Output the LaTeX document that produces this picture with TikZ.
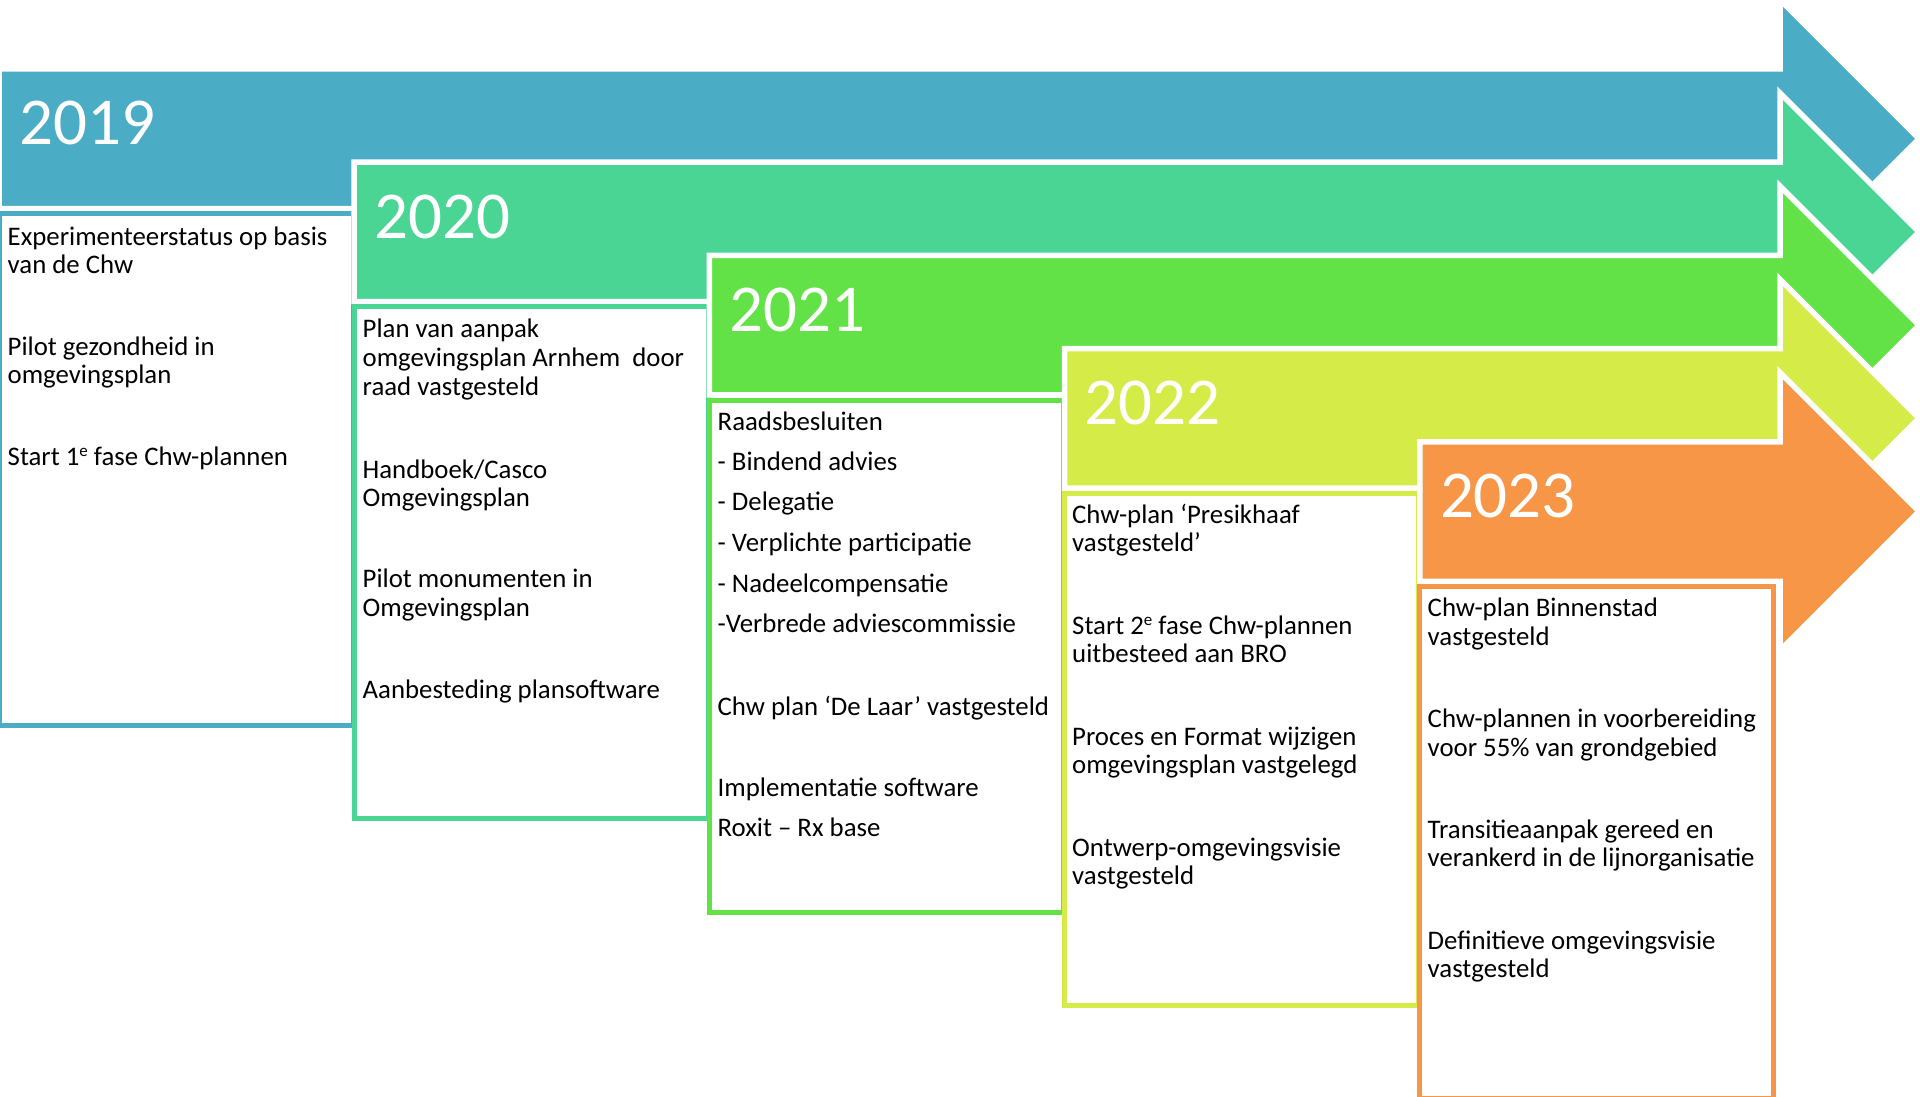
\documentclass[tikz,border=0pt]{standalone}
\usepackage{fontspec}
\setmainfont{Carlito}

\definecolor{c2019}{HTML}{4BACC6}
\definecolor{c2020}{HTML}{4AD594}
\definecolor{c2021}{HTML}{62E247}
\definecolor{c2022}{HTML}{D5EC48}
\definecolor{c2023}{HTML}{F79646}

% small raised ordinal suffix, sitting just below cap height
\newcommand{\ordsuf}[1]{\raisebox{0.33em}{\fontsize{17}{17}\selectfont #1}}

\tikzset{
  yeararrow/.style={fill=#1, draw=white, line width=5.5pt, line join=miter},
  yearbox/.style={draw=#1, fill=white, line width=5pt},
  yearlabel/.style={anchor=base west, inner sep=0pt, text=white,
    font=\fontsize{67}{80}\selectfont},
  itemtext/.style={anchor=base west, inner sep=0pt,
    font=\fontsize{26.8}{32}\selectfont},
}

\begin{document}
\begin{tikzpicture}[x=1pt,y=-1pt]
\useasboundingbox (0,0) rectangle (1920,1097);

% one arrow and one list box per year, stepping down and to the right
\foreach \k/\col/\yr in {0/c2019/2019, 1/c2020/2020, 2/c2021/2021, 3/c2022/2022, 4/c2023/2023} {
  \pgfmathsetmacro\L{-1+355.2*\k}
  \pgfmathsetmacro\T{69+93.2*\k}
  \pgfmathsetmacro\B{\T+139.5}
  \pgfmathsetmacro\C{\T+69.75}
  \pgfmathsetmacro\Bt{\T+144.7}
  \draw[yeararrow=\col] (\L,\T) -- (1780,\T) -- (1780,\C-139) -- (1919,\C)
    -- (1780,\C+139) -- (1780,\B) -- (\L,\B) -- cycle;
  \node[yearlabel] (y\yr) at (\L+20,\T+76) {\yr};
  \draw[yearbox=\col] (\L,\Bt) rectangle (\L+354,\Bt+512);
}

% 2019
\foreach \yy/\txt [count=\i] in {
  245/{Experimenteerstatus op basis}, 273.3/{van de Chw},
  355/{Pilot gezondheid in}, 383.3/{omgevingsplan},
  465/{Start 1\ordsuf{e} fase Chw-plannen}}
  \node[itemtext] (a\i) at (7.5,\yy) {\txt};

% 2020
\foreach \yy/\txt [count=\i] in {
  337.3/{Plan van aanpak}, 366/{omgevingsplan Arnhem\ \ door}, 395/{raad vastgesteld},
  478.3/{Handboek/Casco}, 506.7/{Omgevingsplan},
  587.3/{Pilot monumenten in}, 616/{Omgevingsplan},
  698.3/{Aanbesteding plansoftware}}
  \node[itemtext] (b\i) at (362.5,\yy) {\txt};

% 2021
\foreach \yy/\txt [count=\i] in {
  430.7/{Raadsbesluiten}, 470/{- Bindend advies}, 510.7/{- Delegatie},
  551.7/{- Verplichte participatie}, 592.3/{- Nadeelcompensatie},
  632.7/{-Verbrede adviescommissie},
  715/{Chw plan ‘De Laar’ vastgesteld},
  796.7/{Implementatie software}, 836.7/{Roxit – Rx base}}
  \node[itemtext] (c\i) at (717.5,\yy) {\txt};

% 2022
\foreach \yy/\txt [count=\i] in {
  523.3/{Chw-plan ‘Presikhaaf}, 551.7/{vastgesteld’},
  634/{Start 2\ordsuf{e} fase Chw-plannen}, 662.7/{uitbesteed aan BRO},
  745/{Proces en Format wijzigen}, 773.3/{omgevingsplan vastgelegd},
  856/{Ontwerp-omgevingsvisie}, 884/{vastgesteld}}
  \node[itemtext] (d\i) at (1072,\yy) {\txt};

% 2023
\foreach \yy/\txt [count=\i] in {
  616.7/{Chw-plan Binnenstad}, 645/{vastgesteld},
  727.7/{Chw-plannen in voorbereiding}, 756/{voor 55\% van grondgebied},
  838.3/{Transitieaanpak gereed en}, 866.7/{verankerd in de lijnorganisatie},
  949.3/{Definitieve omgevingsvisie}, 977.7/{vastgesteld}}
  \node[itemtext] (e\i) at (1427.5,\yy) {\txt};
\end{tikzpicture}
\end{document}
